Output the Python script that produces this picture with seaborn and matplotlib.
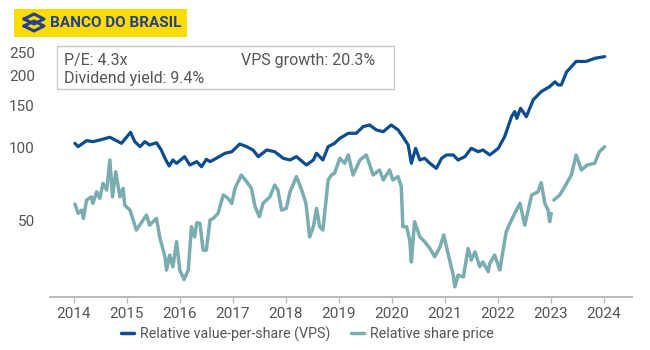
import matplotlib
matplotlib.use("Agg")
import matplotlib.pyplot as plt
import matplotlib.dates as mdates
from matplotlib.lines import Line2D
from matplotlib.patches import Rectangle
from matplotlib.ticker import NullLocator
import numpy as np
import pandas as pd
import seaborn as sns

# relative value-per-share (decimal year, index)
vps_years = [2014.02, 2014.08, 2014.24, 2014.36, 2014.49, 2014.68, 2014.90, 2015.07, 2015.15,
             2015.25, 2015.34, 2015.43, 2015.56, 2015.65, 2015.72, 2015.80, 2015.87, 2015.94,
             2016.09, 2016.19, 2016.32, 2016.41, 2016.50, 2016.57, 2016.69, 2016.85, 2016.98,
             2017.13, 2017.26, 2017.38, 2017.48, 2017.64, 2017.79, 2017.95, 2018.08, 2018.20,
             2018.39, 2018.52, 2018.58, 2018.70, 2018.80, 2018.92, 2019.02, 2019.18, 2019.33,
             2019.46, 2019.58, 2019.71, 2019.84, 2019.99, 2020.12, 2020.21, 2020.31, 2020.37,
             2020.45, 2020.53, 2020.62, 2020.72, 2020.84, 2020.94, 2021.03, 2021.16, 2021.25,
             2021.38, 2021.50, 2021.63, 2021.72, 2021.85, 2022.01, 2022.13, 2022.26, 2022.32,
             2022.36, 2022.43, 2022.54, 2022.67, 2022.82, 2022.98, 2023.08, 2023.14, 2023.20,
             2023.30, 2023.48, 2023.67, 2023.83, 2024.02]
vps_values = [104.6, 101.3, 107.3, 106.3, 108.0, 110.9, 104.6, 116.3, 106.3,
              101.3, 106.3, 102.9, 105.2, 98.1, 90.6, 84.1, 89.1, 86.3,
              92.0, 84.9, 87.7, 83.5, 89.7, 87.7, 90.6, 95.0, 96.5,
              103.9, 101.3, 98.1, 92.0, 98.1, 96.5, 90.6, 89.1, 92.0,
              84.9, 89.1, 95.0, 89.1, 101.3, 104.6, 109.8, 115.2, 115.2,
              122.8, 124.8, 119.0, 117.0, 124.8, 119.0, 111.5, 102.9, 86.3,
              99.7, 89.1, 90.6, 86.3, 82.2, 90.6, 93.5, 93.5, 89.1,
              92.0, 99.7, 96.5, 98.1, 93.5, 99.7, 111.5, 135.2, 142.0,
              133.0, 146.6, 135.2, 159.0, 172.0, 180.5, 189.0, 183.5, 183.5,
              208.0, 230.0, 230.0, 237.0, 241.0]

# relative share price (NaN marks the short gap at the start of 2023)
price_years = [2014.02, 2014.08, 2014.15, 2014.18, 2014.24, 2014.33, 2014.36, 2014.43, 2014.49,
               2014.55, 2014.62, 2014.68, 2014.73, 2014.79, 2014.87, 2014.93, 2014.96, 2015.06,
               2015.18, 2015.37, 2015.43, 2015.56, 2015.62, 2015.72, 2015.75, 2015.81, 2015.87,
               2015.94, 2016.00, 2016.08, 2016.16, 2016.22, 2016.28, 2016.32, 2016.38, 2016.44,
               2016.50, 2016.57, 2016.63, 2016.72, 2016.82, 2016.91, 2016.98, 2017.04, 2017.16,
               2017.26, 2017.35, 2017.42, 2017.50, 2017.57, 2017.70, 2017.79, 2017.85, 2017.92,
               2018.01, 2018.08, 2018.20, 2018.30, 2018.38, 2018.45, 2018.52, 2018.58, 2018.64,
               2018.70, 2018.80, 2018.86, 2018.92, 2019.02, 2019.11, 2019.18, 2019.27, 2019.40,
               2019.52, 2019.65, 2019.77, 2019.84, 2019.96, 2020.02, 2020.12, 2020.18, 2020.21,
               2020.28, 2020.34, 2020.37, 2020.43, 2020.53, 2020.62, 2020.72, 2020.81, 2020.91,
               2020.98, 2021.06, 2021.16, 2021.19, 2021.25, 2021.35, 2021.44, 2021.50, 2021.57,
               2021.66, 2021.72, 2021.82, 2021.85, 2021.94, 2022.04, 2022.10, 2022.16, 2022.23,
               2022.32, 2022.42, 2022.51, 2022.64, 2022.76, 2022.82, 2022.89, 2022.95, 2022.98,
               2023.01, 2023.03, 2023.06, 2023.17, 2023.30, 2023.39, 2023.48, 2023.58, 2023.69,
               2023.83, 2023.92, 2024.02]
price_values = [58.3, 53.3, 55.0, 50.8, 60.6, 62.5, 58.7, 65.6, 61.6,
                71.1, 66.7, 89.1, 62.5, 79.6, 62.5, 67.8, 57.7, 55.0,
                45.4, 52.4, 47.6, 50.8, 42.5, 35.1, 30.9, 35.7, 31.9,
                40.6, 30.9, 28.2, 30.9, 46.9, 42.5, 48.7, 48.4, 37.4,
                37.4, 50.0, 50.8, 53.3, 63.6, 61.6, 58.7, 67.8, 77.1,
                72.3, 67.8, 56.8, 51.6, 58.7, 62.5, 70.0, 66.7, 55.0,
                55.9, 65.6, 75.9, 66.7, 58.7, 42.5, 46.9, 55.9, 46.9,
                45.4, 73.5, 77.1, 78.4, 90.6, 86.3, 93.5, 77.1, 89.1,
                93.5, 77.1, 80.9, 73.5, 80.9, 73.5, 75.9, 68.9, 46.9,
                46.9, 41.2, 33.4, 49.2, 42.5, 40.6, 38.0, 35.1, 38.6,
                43.3, 36.3, 29.4, 26.3, 29.4, 28.9, 38.0, 34.0, 36.8,
                31.9, 33.4, 30.4, 32.9, 35.7, 30.9, 37.4, 44.7, 48.4,
                53.3, 58.7, 47.6, 63.6, 65.6, 71.6, 58.7, 55.0, 49.2,
                53.3, np.nan, 60.6, 63.6, 71.1, 77.1, 93.5, 80.9, 84.9,
                86.3, 96.5, 101.3]

y_ticks = [50, 100, 150, 200, 250]
stats_left = ["P/E: 4.3x", "Dividend yield: 9.4%"]
stats_right = "VPS growth: 20.3%"
labels = ["Relative value-per-share (VPS)", "Relative share price"]

vps_color = "#0b4d8e"
price_color = "#79adb0"
grey_text = "#555555"


def to_date(y):
    year = int(y)
    start = pd.Timestamp(year, 1, 1)
    return start + (pd.Timestamp(year + 1, 1, 1) - start) * (y - year)


vps_df = pd.DataFrame({"date": [to_date(y) for y in vps_years], "value": vps_values})
price_df = pd.DataFrame({"date": [to_date(y) for y in price_years], "value": price_values})
price_df["segment"] = price_df["value"].isna().cumsum()
price_df = price_df.dropna()

sns.set_theme(style="white")
plt.rcParams["font.family"] = ["Roboto", "DejaVu Sans"]

fig = plt.figure(figsize=(6.5, 3.5), dpi=100)
ax = fig.add_axes([0.077, 0.151, 0.895, 0.735])

sns.lineplot(data=price_df, x="date", y="value", units="segment", estimator=None,
             color=price_color, linewidth=2.5, ax=ax)
sns.lineplot(data=vps_df, x="date", y="value", color=vps_color, linewidth=2.3, ax=ax)

ax.set_yscale("log")
ax.set_ylim(23.8, 283)
ax.set_yticks(y_ticks)
ax.set_yticklabels([str(t) for t in y_ticks])
ax.yaxis.set_minor_locator(NullLocator())
ax.set_xlim(to_date(2013.55), to_date(2024.53))
ax.xaxis.set_major_locator(mdates.YearLocator())
ax.xaxis.set_major_formatter(mdates.DateFormatter("%Y"))
ax.set_xlabel("")
ax.set_ylabel("")

for side in ["top", "right", "left"]:
    ax.spines[side].set_visible(False)
ax.spines["bottom"].set_color("#bbbbbb")
ax.spines["bottom"].set_linewidth(1.5)
ax.tick_params(axis="x", length=4, width=1, color="#bbbbbb", labelsize=11,
               labelcolor=grey_text, pad=3, bottom=True)
ax.tick_params(axis="y", length=0, labelsize=11, labelcolor=grey_text, pad=11)

# stats box
fig.add_artist(Rectangle((57 / 650, 1 - 89 / 350), 337 / 650, 43 / 350,
                         transform=fig.transFigure, facecolor="white",
                         edgecolor="#c8c8c8", linewidth=1))
fig.text(64 / 650, 1 - 60 / 350, stats_left[0], fontsize=11.5, color=grey_text, va="center")
fig.text(64 / 650, 1 - 78 / 350, stats_left[1], fontsize=11.5, color=grey_text, va="center")
fig.text(375 / 650, 1 - 60 / 350, stats_right, fontsize=11.5, color=grey_text,
         va="center", ha="right")

# logo
fig.add_artist(Rectangle((14 / 650, 1 - 37 / 350), 173 / 650, 28 / 350,
                         transform=fig.transFigure, facecolor="#fcdc00",
                         edgecolor="none"))
logo_blue = "#24408e"
for dy in (0, 7):
    xs = np.array([24, 34, 44, 34, 24]) / 650
    ys = 1 - (np.array([19, 14, 19, 24, 19]) + dy) / 350
    fig.add_artist(Line2D(xs, ys, transform=fig.transFigure, color=logo_blue, linewidth=2.2))
fig.text(50 / 650, 1 - 23 / 350, "BANCO DO BRASIL", fontsize=11, fontweight="bold",
         color=logo_blue, va="center")

handles = [Line2D([], [], color=vps_color, linewidth=2.5),
           Line2D([], [], color=price_color, linewidth=2.5)]
fig.legend(handles, labels, loc="center", bbox_to_anchor=(0.473, 1 - 334 / 350), ncol=2,
           frameon=False, fontsize=10.3, handlelength=0.9, handletextpad=0.4,
           columnspacing=1.5, labelcolor=grey_text)

fig.savefig("out.png", dpi=100)
